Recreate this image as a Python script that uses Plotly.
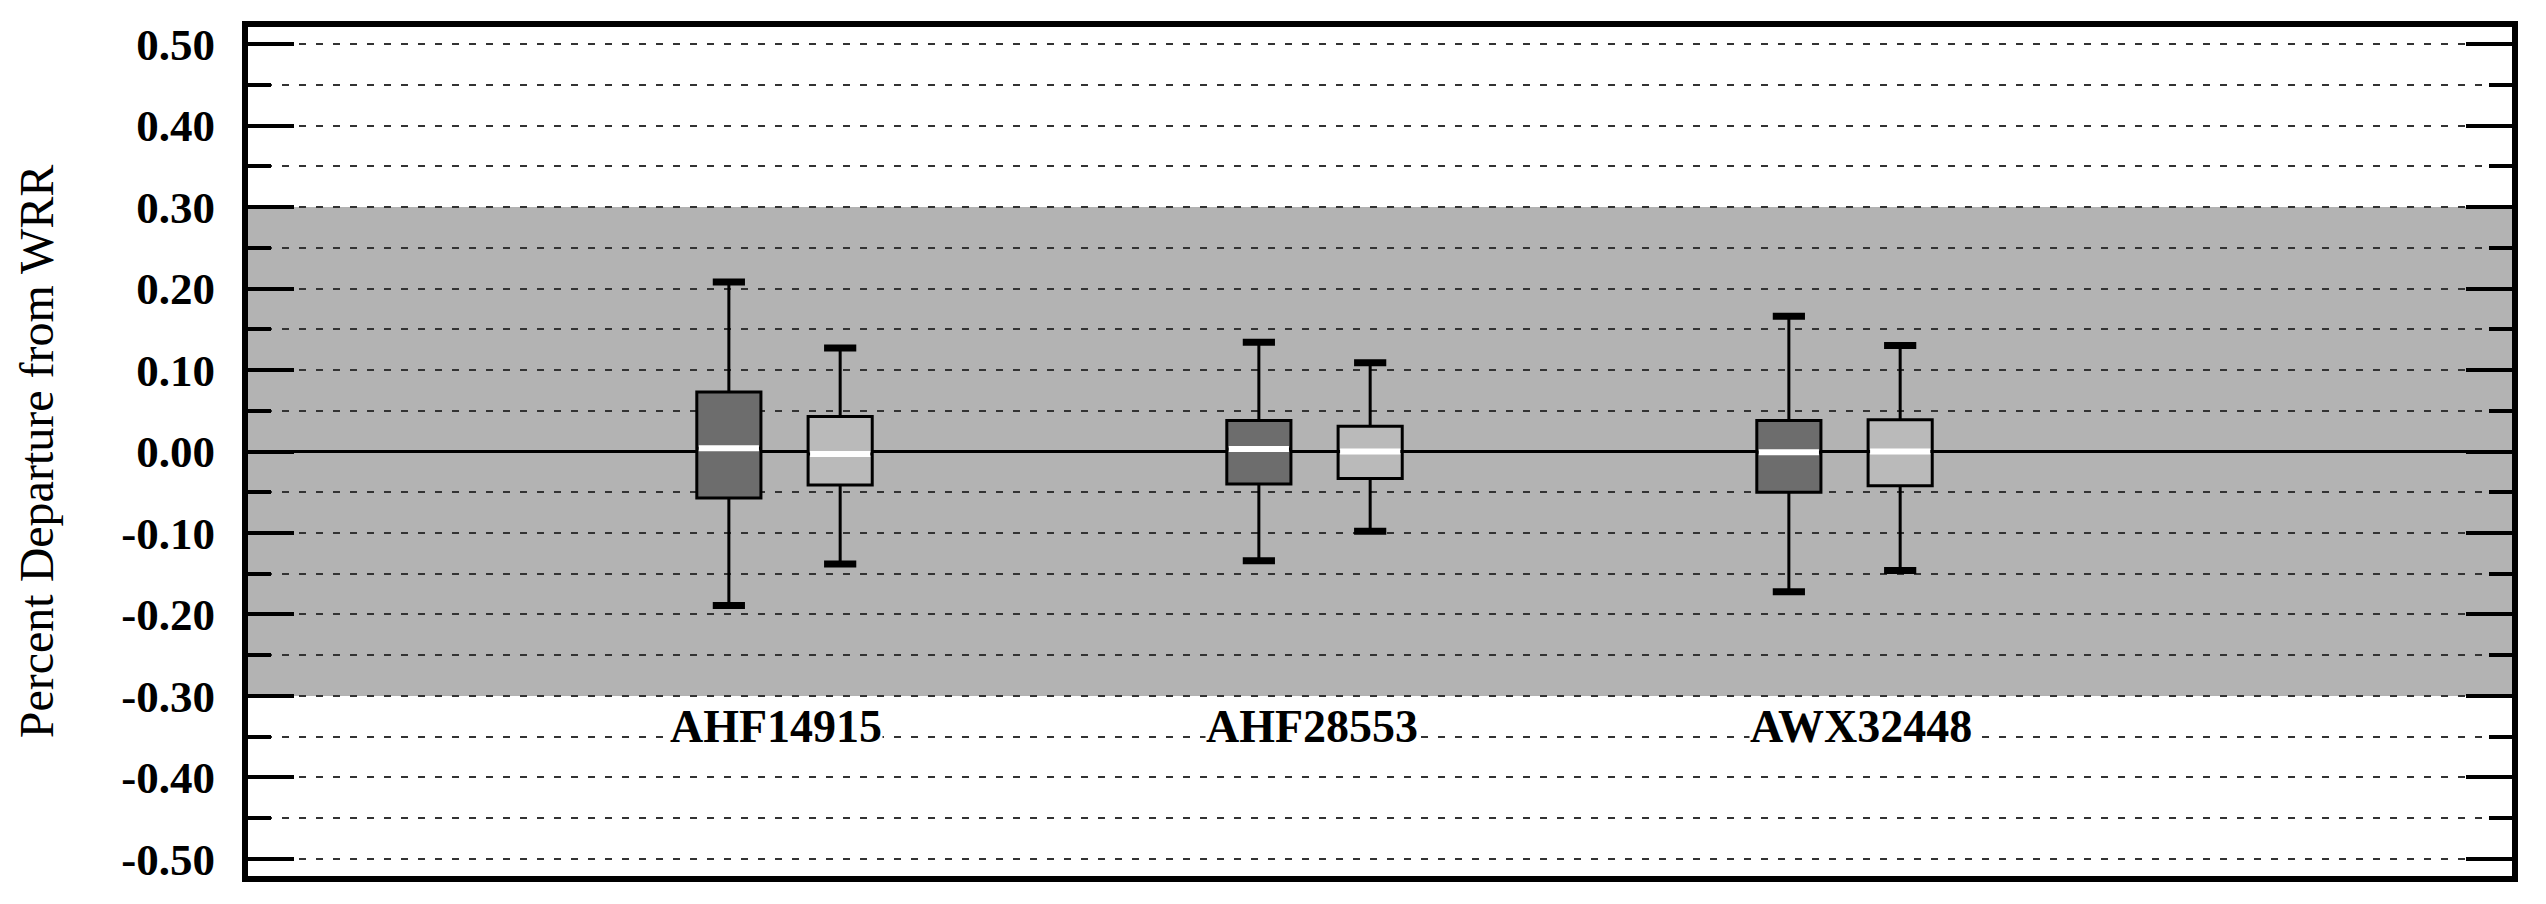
import plotly.graph_objects as go

# ---- data ----
groups = ["AHF14915", "AHF28553", "AWX32448"]
group_pos = [1, 2, 3]

dark_upper = [0.208, 0.134, 0.166]
dark_q3 = [0.073, 0.038, 0.038]
dark_median = [0.004, 0.003, -0.001]
dark_q1 = [-0.057, -0.040, -0.050]
dark_lower = [-0.189, -0.134, -0.172]

light_upper = [0.127, 0.109, 0.130]
light_q3 = [0.043, 0.031, 0.039]
light_median = [-0.003, 0.000, 0.000]
light_q1 = [-0.041, -0.033, -0.042]
light_lower = [-0.138, -0.098, -0.146]

y_tickvals = [0.5, 0.4, 0.3, 0.2, 0.1, 0.0, -0.1, -0.2, -0.3, -0.4, -0.5]
y_ticktext = ["0.50", "0.40", "0.30", "0.20", "0.10", "0.00",
              "-0.10", "-0.20", "-0.30", "-0.40", "-0.50"]
band = [-0.30, 0.30]
label_y = -0.337
y_title = "Percent Departure from WRR"

# ---- style ----
offset = 0.105
box_w = 0.121
dark_fill = "#6d6d6d"
light_fill = "#bababa"
band_fill = "#b3b3b3"
font_family = "Liberation Serif"
label_xshift = [-9, -3, 16]

dark_x = [g - offset for g in group_pos]
light_x = [g + offset for g in group_pos]

fig = go.Figure()

for xs, q1, med, q3, lo, hi, fill, name in [
    (dark_x, dark_q1, dark_median, dark_q3, dark_lower, dark_upper, dark_fill, "A"),
    (light_x, light_q1, light_median, light_q3, light_lower, light_upper, light_fill, "B"),
]:
    fig.add_trace(go.Box(
        x=xs, q1=q1, median=med, q3=q3, lowerfence=lo, upperfence=hi,
        width=box_w, whiskerwidth=0, fillcolor=fill,
        line=dict(color="black", width=3), name=name, showlegend=False,
        boxpoints=False,
    ))
    # whisker caps
    fig.add_trace(go.Scatter(
        x=xs + xs, y=hi + lo, mode="markers", showlegend=False, hoverinfo="skip",
        marker=dict(symbol="line-ew", size=23, color="black",
                    line=dict(color="black", width=7)),
    ))
    # white median lines
    fig.add_trace(go.Scatter(
        x=xs, y=med, mode="markers", showlegend=False, hoverinfo="skip",
        marker=dict(symbol="line-ew", size=43, color="white",
                    line=dict(color="white", width=6)),
    ))

fig.add_shape(type="rect", xref="paper", yref="y", x0=0, x1=1,
              y0=band[0], y1=band[1], fillcolor=band_fill, line_width=0,
              layer="below")

for g, lab, xs in zip(group_pos, groups, label_xshift):
    fig.add_annotation(x=g, y=label_y, text=lab, showarrow=False, xshift=xs,
                       bgcolor="white", borderpad=0,
                       font=dict(family=font_family, size=46, color="black", weight="bold"))

fig.update_layout(
    width=2546, height=904,
    margin=dict(l=248, r=34, t=27, b=28),
    paper_bgcolor="white", plot_bgcolor="white",
    boxmode="overlay",
    font=dict(family=font_family, color="black"),
)

fig.update_xaxes(
    range=[-0.0123, 4.2594], showline=True, mirror=True, linewidth=6,
    linecolor="black", showticklabels=False, ticks="", showgrid=False,
    zeroline=False,
)

fig.update_yaxes(
    range=[-0.521, 0.521], tickmode="array", tickvals=y_tickvals,
    ticktext=y_ticktext, ticks="inside", ticklen=46, tickwidth=4,
    tickcolor="black", showline=True, mirror="allticks", linewidth=6,
    linecolor="black", showgrid=True, gridcolor="#333333", gridwidth=1.5,
    griddash="7px,10px", zeroline=True, zerolinecolor="black",
    zerolinewidth=2.5, ticklabelstandoff=18,
    tickfont=dict(family=font_family, size=45, color="black", weight="bold"),
    title=dict(text=y_title, standoff=54,
               font=dict(family=font_family, size=48, color="black")),
    minor=dict(tickmode="linear", tick0=0.05, dtick=0.1, ticks="inside",
               ticklen=23, tickwidth=4, tickcolor="black", showgrid=True,
               gridcolor="#333333", gridwidth=1.5, griddash="7px,10px"),
)

fig.write_html("out.html", config={"displayModeBar": False},
               post_script="document.body.style.margin='0';")
